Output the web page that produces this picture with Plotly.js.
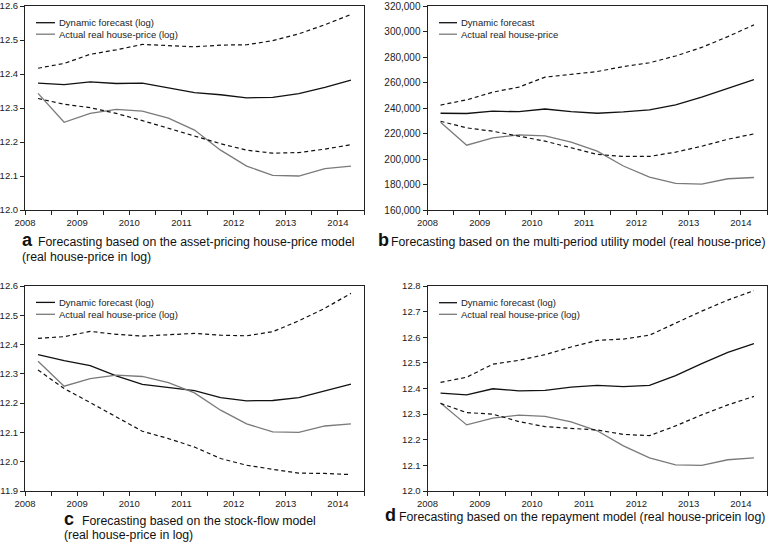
<!DOCTYPE html>
<html>
<head>
<meta charset="utf-8">
<script src="https://cdn.plot.ly/plotly-3.0.1.min.js"></script>
<style>html,body{margin:0;padding:0;background:#fff;}#chart{width:769px;height:544px;}</style>
</head>
<body>
<div id="chart"></div>
<script>
// Semi-annual periods (mid-points of half-years), 2008H1 .. 2014H1
const periods = [2008.25, 2008.75, 2009.25, 2009.75, 2010.25, 2010.75, 2011.25, 2011.75, 2012.25, 2012.75, 2013.25, 2013.75, 2014.25];
const yearTicks = [2008, 2008.5, 2009, 2009.5, 2010, 2010.5, 2011, 2011.5, 2012, 2012.5, 2013, 2013.5, 2014, 2014.5];
const yearLabels = ["2008", "", "2009", "", "2010", "", "2011", "", "2012", "", "2013", "", "2014", ""];

// Actual real house-price (log) — same series in panels a, c, d
const actualLog = [12.343, 12.258, 12.284, 12.296, 12.291, 12.270, 12.235, 12.176, 12.129, 12.102, 12.100, 12.122, 12.129];
// Actual real house-price (level) — panel b
const actualLevel = [228800, 210800, 216600, 218900, 218200, 213200, 206200, 194500, 185800, 180900, 180300, 184500, 185500];

// Panel a: asset-pricing model
const aForecast = [12.373, 12.369, 12.377, 12.372, 12.373, 12.358, 12.345, 12.339, 12.330, 12.331, 12.342, 12.361, 12.382];
const aUpper    = [12.417, 12.431, 12.458, 12.471, 12.487, 12.484, 12.480, 12.485, 12.486, 12.498, 12.518, 12.545, 12.575];
const aLower    = [12.328, 12.311, 12.301, 12.284, 12.263, 12.240, 12.216, 12.195, 12.176, 12.167, 12.169, 12.179, 12.192];

// Panel b: multi-period utility model
const bForecast = [235900, 235700, 237500, 237100, 239200, 237100, 235900, 236900, 238500, 242500, 248500, 255500, 262200];
const bUpper    = [242300, 246400, 252400, 256400, 264200, 266300, 268600, 272500, 275500, 280800, 287500, 296000, 305200];
const bLower    = [229600, 224400, 221800, 217900, 214000, 208800, 203600, 202000, 202000, 205400, 210000, 215500, 219700];

// Panel c: stock-flow model
const cForecast = [12.366, 12.345, 12.328, 12.293, 12.264, 12.253, 12.243, 12.219, 12.208, 12.209, 12.219, 12.242, 12.265];
const cUpper    = [12.421, 12.427, 12.445, 12.435, 12.429, 12.433, 12.438, 12.432, 12.430, 12.444, 12.481, 12.524, 12.575];
const cLower    = [12.313, 12.250, 12.202, 12.153, 12.104, 12.079, 12.050, 12.011, 11.988, 11.974, 11.961, 11.960, 11.956];

// Panel d: repayment model
const dForecast = [12.382, 12.375, 12.399, 12.391, 12.393, 12.405, 12.412, 12.407, 12.412, 12.450, 12.497, 12.541, 12.575];
const dUpper    = [12.424, 12.444, 12.495, 12.510, 12.532, 12.562, 12.588, 12.593, 12.608, 12.656, 12.702, 12.745, 12.782];
const dLower    = [12.342, 12.306, 12.300, 12.271, 12.251, 12.245, 12.238, 12.221, 12.216, 12.254, 12.297, 12.336, 12.369];

const legendLog = ["Dynamic forecast (log)", "Actual real house-price (log)"];
const legendLevel = ["Dynamic forecast", "Actual real house-price"];

const captionLetters = ["a", "b", "c", "d"];
const captionLine1 = [
  "Forecasting based on the asset-pricing house-price model",
  "Forecasting based on the multi-period utility model (real house-price)",
  "Forecasting based on the stock-flow model",
  "Forecasting based on the repayment model (real house-pricein log)"
];
const captionLine2 = ["(real house-price in log)", "", "(real house-price in log)", ""];

const FONT = "Liberation Sans, Arial, sans-serif";
const BLACK = "#111111";
const GREY = "#7a7a7a";
const W = 769, H = 544;
const px = v => v / W;
const py = v => 1 - v / H;

function panelTraces(ax, forecast, actual, upper, lower, names) {
  const xa = ax === 1 ? "x" : "x" + ax;
  const ya = ax === 1 ? "y" : "y" + ax;
  const dashed = {color: BLACK, width: 1.2, dash: "4px,3px"};
  return [
    {x: periods, y: forecast, xaxis: xa, yaxis: ya, mode: "lines", name: names[0], line: {color: BLACK, width: 1.3}},
    {x: periods, y: actual, xaxis: xa, yaxis: ya, mode: "lines", name: names[1], line: {color: GREY, width: 1.3}},
    {x: periods, y: upper, xaxis: xa, yaxis: ya, mode: "lines", name: "upper", line: dashed},
    {x: periods, y: lower, xaxis: xa, yaxis: ya, mode: "lines", name: "lower", line: dashed}
  ];
}

const data = [].concat(
  panelTraces(1, aForecast, actualLog, aUpper, aLower, legendLog),
  panelTraces(2, bForecast, actualLevel, bUpper, bLower, legendLevel),
  panelTraces(3, cForecast, actualLog, cUpper, cLower, legendLog),
  panelTraces(4, dForecast, actualLog, dUpper, dLower, legendLog)
);

function xAxis(domain, anchor) {
  return {
    domain: domain, anchor: anchor, range: [2008, 2014.5],
    tickmode: "array", tickvals: yearTicks, ticktext: yearLabels,
    ticks: "outside", ticklen: 4, tickwidth: 1, tickcolor: "#222",
    showgrid: false, zeroline: false, showline: true, linecolor: "#222", linewidth: 1, mirror: true,
    tickfont: {family: FONT, size: 9.5, color: "#222"}, fixedrange: true
  };
}
function yAxis(domain, anchor, range, dtick, fmt, fs) {
  return {
    domain: domain, anchor: anchor, range: range, dtick: dtick, tick0: range[0], tickformat: fmt,
    ticks: "outside", ticklen: 4, tickwidth: 1, tickcolor: "#222",
    showgrid: false, zeroline: false, showline: true, linecolor: "#222", linewidth: 1, mirror: true,
    tickfont: {family: FONT, size: fs, color: "#222"}, fixedrange: true
  };
}

const leftX = [px(25), px(364)];
const rightX = [px(427.5), px(767)];
const topY = [py(210), py(6)];
const botY = [py(491), py(286)];

const shapes = [];
const annotations = [];
function text(xPix, yPix, t, font, yanchor) {
  annotations.push({xref: "paper", yref: "paper", x: px(xPix), y: py(yPix), xanchor: "left", yanchor: yanchor || "middle",
    align: "left", showarrow: false, text: t, font: font});
}

// Legend (key lines + text, compact like the original)
const legFont = {family: FONT, size: 9.5, color: "#222"};
function legendBlock(sx0, sx1, tx, y1, y2, names) {
  shapes.push({type: "line", xref: "paper", yref: "paper", x0: px(sx0), x1: px(sx1), y0: py(y1), y1: py(y1), line: {color: BLACK, width: 1.3}});
  shapes.push({type: "line", xref: "paper", yref: "paper", x0: px(sx0), x1: px(sx1), y0: py(y2), y1: py(y2), line: {color: GREY, width: 1.3}});
  text(tx, y1, names[0], legFont);
  text(tx, y2, names[1], legFont);
}
legendBlock(36, 55, 57, 22.7, 34.2, legendLog);
legendBlock(439, 457, 459, 22.7, 34.2, legendLevel);
legendBlock(36, 55, 57, 302.4, 314.3, legendLog);
legendBlock(439, 457, 459, 302.7, 314.3, legendLog);

// Captions
const capFont = {family: FONT, size: 12.3, color: "#111"};
const letterFont = {family: "Liberation Sans, Arial, sans-serif", size: 18, color: "#111", weight: "bold"};
function caption(i, letterX, textX, y1, line2X, y2) {
  text(letterX, y1 - 2, "<b>" + captionLetters[i] + "</b>", letterFont);
  text(textX, y1, captionLine1[i], capFont);
  if (captionLine2[i]) text(line2X, y2, captionLine2[i], capFont);
}
caption(0, 19.5, 35.5, 242.3, 19.5, 256.7);
caption(1, 375.5, 388.5, 242.3, 0, 0);
caption(2, 61.5, 79.5, 520.7, 61.5, 535);
caption(3, 382.5, 397, 517, 0, 0);

const layout = {
  width: W, height: H,
  margin: {l: 0, r: 0, t: 0, b: 0},
  paper_bgcolor: "#fff", plot_bgcolor: "#fff",
  showlegend: false,
  xaxis: xAxis(leftX, "y"),
  yaxis: yAxis(topY, "x", [12.0, 12.6], 0.1, ".1f", 9.5),
  xaxis2: xAxis(rightX, "y2"),
  yaxis2: yAxis(topY, "x2", [160000, 320000], 20000, ",d", 10),
  xaxis3: xAxis(leftX, "y3"),
  yaxis3: yAxis(botY, "x3", [11.9, 12.6], 0.1, ".1f", 9.5),
  xaxis4: xAxis(rightX, "y4"),
  yaxis4: yAxis(botY, "x4", [12.0, 12.8], 0.1, ".1f", 9.5),
  shapes: shapes,
  annotations: annotations
};

Plotly.newPlot("chart", data, layout, {staticPlot: true, displayModeBar: false});
</script>
</body>
</html>
